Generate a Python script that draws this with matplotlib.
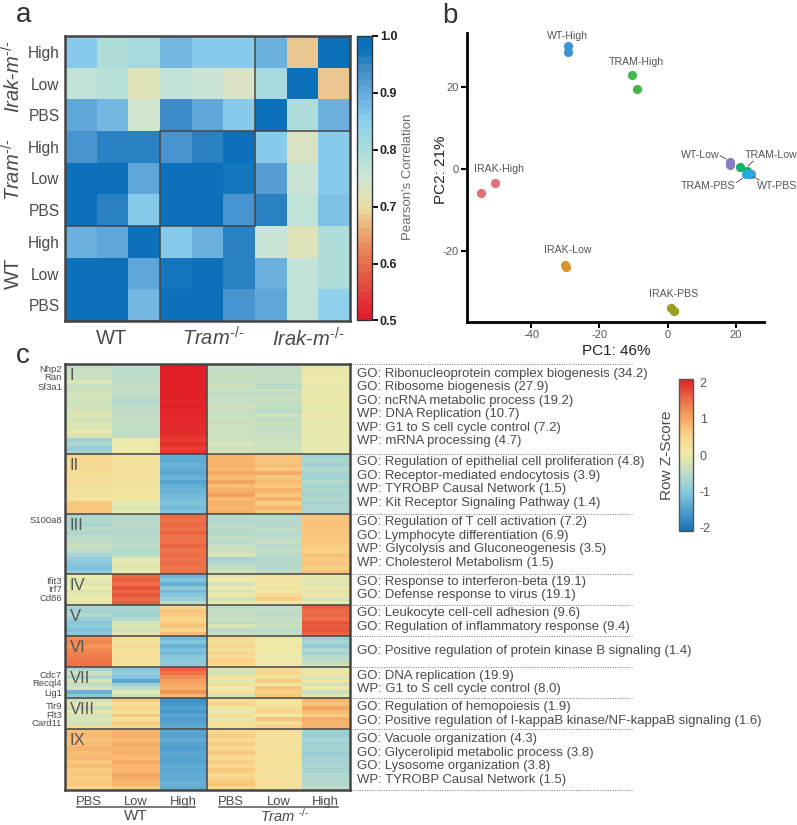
import matplotlib
matplotlib.use('Agg')
import matplotlib.pyplot as plt
import numpy as np
from matplotlib.colors import LinearSegmentedColormap
from matplotlib.patches import Rectangle

W, H = 797, 825

plt.rcParams['font.family'] = ['Liberation Sans', 'DejaVu Sans']
plt.rcParams['axes.unicode_minus'] = False
plt.rcParams['mathtext.fontset'] = 'custom'
plt.rcParams['mathtext.rm'] = 'Liberation Sans'
plt.rcParams['mathtext.it'] = 'Liberation Sans:italic'
plt.rcParams['mathtext.bf'] = 'Liberation Sans:bold'

# panel a: correlation matrix, top row first
corr_labels = ['High', 'Low', 'PBS', 'High', 'Low', 'PBS', 'High', 'Low', 'PBS']
corr = [
    [.850, .795, .800, .875, .850, .850, .890, .675, .990],
    [.770, .780, .715, .770, .760, .735, .800, .985, .675],
    [.910, .885, .745, .945, .910, .850, .990, .790, .890],
    [.930, .955, .950, .930, .960, .985, .850, .730, .850],
    [.985, .985, .900, .995, .995, .970, .915, .750, .850],
    [.985, .960, .850, .995, .995, .930, .950, .765, .870],
    [.890, .905, .985, .850, .890, .950, .750, .715, .795],
    [.990, .990, .905, .965, .985, .955, .890, .770, .790],
    [.990, .990, .880, .985, .980, .930, .910, .770, .840],
]

# panel b: PCA samples
pca_x = {
    'WT-High': [-29.3, -29.3], 'TRAM-High': [-10.6, -9.0], 'IRAK-High': [-50.7, -54.8],
    'IRAK-Low': [-30.2, -29.9], 'IRAK-PBS': [0.9, 1.7], 'WT-Low': [18.1, 18.1],
    'TRAM-Low': [21.3, 23.3], 'WT-PBS': [24.4, 24.4], 'TRAM-PBS': [22.8, 24.1],
}
pca_y = {
    'WT-High': [30.1, 28.7], 'TRAM-High': [23.0, 19.6], 'IRAK-High': [-3.3, -5.9],
    'IRAK-Low': [-23.5, -24.1], 'IRAK-PBS': [-34.1, -34.7], 'WT-Low': [1.6, 0.9],
    'TRAM-Low': [0.6, -0.4], 'WT-PBS': [-1.1, -1.2], 'TRAM-PBS': [-1.2, -1.2],
}
pca_colors = {
    'WT-High': '#3d93d1', 'TRAM-High': '#45b649', 'IRAK-High': '#e56f7b',
    'IRAK-Low': '#d9932a', 'IRAK-PBS': '#9a9f22', 'WT-Low': '#8a7cc0',
    'TRAM-Low': '#10b06a', 'WT-PBS': '#d66ab8', 'TRAM-PBS': '#2aa8e0',
}

# panel c: row z-scores per cluster, columns WT PBS/Low/High then Tram PBS/Low/High
cluster_1 = [
    [-.45, -.50, 2.08, -.42, -.48, -.05],
    [-.36, -.54, 2.08, -.46, -.44, -.02],
    [-.42, -.48, 2.06, -.38, -.50, -.06],
    [-.32, -.52, 2.09, -.42, -.42, -.03],
    [-.18, -.48, 2.07, -.45, -.48, -.04],
    [-.38, -.44, 2.06, -.36, -.54, -.05],
    [-.34, -.50, 2.08, -.42, -.38, -.06],
    [-.26, -.46, 2.06, -.46, -.48, -.02],
    [-.36, -.56, 2.07, -.40, -.34, -.05],
    [-.30, -.60, 2.04, -.44, -.52, -.01],
    [-.36, -.46, 2.08, -.32, -.42, -.08],
    [-.22, -.50, 2.02, -.40, -.56, -.04],
    [-.14, -.46, 2.05, -.44, -.34, -.06],
    [-.30, -.42, 2.00, -.34, -.50, -.03],
    [-.16, -.48, 2.04, -.42, -.32, -.07],
    [-.26, -.42, 1.98, -.28, -.46, -.04],
    [-.06, -.50, 2.00, -.38, -.38, -.06],
    [-.22, -.46, 1.94, -.34, -.44, -.05],
    [-.78,  .00, 1.90, -.36, -.34, -.08],
    [-.66, -.06, 1.96, -.22, -.42, -.05],
    [-.88,  .04, 1.86, -.36, -.30, -.07],
    [-.72, -.04, 1.92, -.28, -.36, -.06],
]
cluster_2 = [
    [ .45,  .25, -1.38, .88, .72, -.80],
    [ .40,  .16, -1.40, .84, .70, -.66],
    [ .42,  .28, -1.30, .90, .75, -.78],
    [ .34,  .20, -1.36, .84, .68, -.60],
    [ .38,  .18, -1.42, .98, .96, -.72],
    [ .24,  .26, -1.28, .80, .66, -.80],
    [ .36,  .14, -1.48, 1.04, .80, -.60],
    [ .26,  .26, -1.34, .78, .68, -.76],
    [ .18,  .10, -1.26, .92, .88, -.66],
    [ .32,  .20, -1.22, 1.08, .64, -.72],
    [ .14,  .12, -1.14, .82, .92, -.62],
    [ .66, -.10, -1.08, .92, .60, -.78],
    [ .70, -.20, -1.16, .88, .84, -.66],
    [ .64, -.06, -1.05, .96, .66, -.70],
]
cluster_3 = [
    [-.70, -.56, 1.54, -.56, -.60, .72],
    [-.64, -.60, 1.50, -.62, -.54, .70],
    [-.72, -.52, 1.58, -.52, -.60, .76],
    [-.58, -.58, 1.48, -.58, -.48, .68],
    [-.68, -.62, 1.62, -.62, -.58, .72],
    [-.54, -.54, 1.48, -.46, -.52, .66],
    [-.46, -.56, 1.52, -.56, -.40, .68],
    [-.38, -.52, 1.60, -.42, -.56, .62],
    [-.52, -.58, 1.46, -.34, -.46, .56],
    [-.72, -.55, 1.56, -.24, -.52, .72],
    [-.90, -.15, 1.48, -.72, -.60, .62],
    [-1.00, -.08, 1.54, -.60, -.54, .70],
    [-1.08, -.14, 1.46, -.46, -.60, .58],
    [-.95, -.04, 1.52, -.26, -.50, .76],
]
cluster_4 = [
    [ .00, 1.58, -1.25, -.10,  .12, -.05],
    [-.12, 1.66, -1.05,  .02,  .22, -.12],
    [-.18, 1.52, -1.32, -.28, -.02, -.18],
    [ .02, 1.72, -.95, -.04,  .18,  .08],
    [-.22, 1.60, -1.18, -.22,  .04, -.22],
    [-.08, 1.70, -1.00,  .06,  .42,  .10],
    [-.02, 1.56, -.88, -.30,  .62, -.25],
    [-.14, 1.64, -.55, -.10,  .08, -.08],
]
cluster_5 = [
    [-.70, -.68, .55, -.50, -.52, 1.62],
    [-.78, -.74, .70, -.42, -.44, 1.55],
    [-.62, -.80, .62, -.48, -.56, 1.60],
    [-.85, -.60, .48, -.36, -.40, 1.50],
    [-1.02, -.28, .60, -.55, -.48, 1.72],
    [-.96, -.18, .72, -.20, -.36, 1.65],
    [-1.08, -.30, .50, -.50, -.52, 1.70],
    [-.98, -.12, .82, -.42, -.44, 1.62],
]
cluster_6 = [
    [1.25, .28, -1.20, .45, .05, -.85],
    [1.32, .20, -1.05, .32, .00, -.70],
    [1.18, .36, -1.28, .50, .10, -.90],
    [1.28, .18, -1.12, .24, .02, -.62],
    [1.36, .32, -1.18, .52, .06, -.78],
    [1.40, .22, -1.00, .35, -.04, -.55],
    [1.46, .30, -.95, .58, .08, -.48],
    [1.50, .16, -.90, .44, -.02, -.30],
]
cluster_7 = [
    [-.70, -1.00, 1.62, -.18, .30, -.05],
    [-.35, -.90, 1.50, -.30, .52, .08],
    [-.62, -1.05, 1.24, .18, .22, -.20],
    [-.22, -1.42, 1.10, -.12, .60, .16],
    [-.50, -.82, 1.02, .30, .14, -.32],
    [-.30, -.50, .94, -.02, .72, .00],
    [-1.28, -.15, 1.18, .28, .56, -.38],
    [-1.00, -.38, .84, -.28, .66, -.12],
]
cluster_8 = [
    [-.30, .62, -1.70, .35, .24, .88],
    [-.12, .38, -1.62, .55, .12, .72],
    [-.38, .48, -1.50, .10, .34, 1.00],
    [-.05, .24, -1.58, -.05, .48, .78],
    [-.28, .70, -1.42, .38, .00, .64],
    [-.18, .22, -1.55, -.12, .72, .92],
    [-.34, .60, -1.45, .30, .28, .84],
    [ .30, .46, -1.38, .18, .58, .86],
]
cluster_9 = [
    [.76, .86, -1.42, .50, .28, -.78],
    [.82, .94, -1.50, .58, .22, -.84],
    [.72, .82, -1.36, .42, .30, -.70],
    [.78, .98, -1.46, .60, .26, -.80],
    [.86, .86, -1.52, .46, .20, -.74],
    [.74, .92, -1.40, .66, .32, -.86],
    [.82, .80, -1.44, .36, .24, -.72],
    [.68, .96, -1.48, .58, .28, -.78],
    [.78, .88, -1.38, .46, .20, -.68],
    [.62, .84, -1.42, .64, .28, -.74],
    [.70, 1.00, -1.34, .40, .22, -.62],
    [.60, .94, -1.40, .56, .28, -.66],
    [.66, .88, -1.30, .70, .22, -.58],
    [.52, .62, -1.36, .46, .26, -.50],
]
clusters = [cluster_1, cluster_2, cluster_3, cluster_4, cluster_5, cluster_6, cluster_7, cluster_8, cluster_9]
cluster_sizes = [90, 60, 60, 31, 31, 31, 31, 31, 61]
cluster_names = ['I', 'II', 'III', 'IV', 'V', 'VI', 'VII', 'VIII', 'IX']
conditions = ['PBS', 'Low', 'High', 'PBS', 'Low', 'High']

go_terms = [
    ['GO: Ribonucleoprotein complex biogenesis (34.2)', 'GO: Ribosome biogenesis (27.9)',
     'GO: ncRNA metabolic process (19.2)', 'WP: DNA Replication (10.7)',
     'WP: G1 to S cell cycle control (7.2)', 'WP: mRNA processing (4.7)'],
    ['GO: Regulation of epithelial cell proliferation (4.8)', 'GO: Receptor-mediated endocytosis (3.9)',
     'WP: TYROBP Causal Network (1.5)', 'WP: Kit Receptor Signaling Pathway (1.4)'],
    ['GO: Regulation of T cell activation (7.2)', 'GO: Lymphocyte differentiation (6.9)',
     'WP: Glycolysis and Gluconeogenesis (3.5)', 'WP: Cholesterol Metabolism (1.5)'],
    ['GO: Response to interferon-beta (19.1)', 'GO: Defense response to virus (19.1)'],
    ['GO: Leukocyte cell-cell adhesion (9.6)', 'GO: Regulation of inflammatory response (9.4)'],
    ['GO: Positive regulation of protein kinase B signaling (1.4)'],
    ['GO: DNA replication (19.9)', 'WP: G1 to S cell cycle control (8.0)'],
    ['GO: Regulation of hemopoiesis (1.9)', 'GO: Positive regulation of I-kappaB kinase/NF-kappaB signaling (1.6)'],
    ['GO: Vacuole organization (4.3)', 'GO: Glycerolipid metabolic process (3.8)',
     'GO: Lysosome organization (3.8)', 'WP: TYROBP Causal Network (1.5)'],
]
go_centres = [407.7, 482.5, 542.5, 588.5, 620, 651, 682.5, 713.8, 759.5]

GRAY = '#4a4a4a'
FRAME = '#454545'


def px_axes(fig, x0, y0, x1, y1):
    # axes from pixel box, y measured from the top of the figure
    return fig.add_axes([x0/W, 1-y1/H, (x1-x0)/W, (y1-y0)/H])


def draw_corr(fig, over):
    cmap = LinearSegmentedColormap.from_list('corr', [
        (0.0, '#e21b2e'), (0.2, '#e4714f'), (0.3, '#eba56f'), (0.4, '#eadfa8'),
        (0.5, '#cfe6d5'), (0.6, '#aadcdb'), (0.7, '#8ed0ee'), (0.8, '#69aedd'),
        (0.9, '#3d8ac8'), (0.96, '#0a71ba'), (1.0, '#0a71ba')], N=40)
    ax = px_axes(fig, 65, 36, 350, 321)
    mesh = ax.pcolormesh(np.array(corr), cmap=cmap, vmin=0.5, vmax=1.0)
    ax.set_ylim(9, 0)
    ax.set_xticks([])
    ax.set_yticks(np.arange(9)+0.5)
    ax.set_yticklabels(corr_labels, fontsize=11.2, color=GRAY)
    ax.tick_params(axis='y', length=0, pad=4)
    for s in ax.spines.values():
        s.set_color(FRAME)
        s.set_linewidth(1.8)
    for x, y in [(6, 0), (3, 3), (0, 6)]:
        ax.add_patch(Rectangle((x, y), 3, 3, fill=False, ec=FRAME, lw=1.1))

    cax = px_axes(fig, 356.7, 36, 371.5, 320.5)
    cb = fig.colorbar(mesh, cax=cax)
    cb.set_ticks([0.5, 0.6, 0.7, 0.8, 0.9, 1.0])
    cb.outline.set_edgecolor('#333333')
    cb.outline.set_linewidth(1.0)
    cax.tick_params(length=4, width=1.3, pad=2, labelsize=9, labelcolor='#222222')
    for t in cax.get_yticklabels():
        t.set_fontweight('bold')
    over.text(408, 177, "Pearson's Correlation", rotation=90, ha='center', va='center',
              fontsize=9.5, color='#6a6a6a')

    over.text(112, 338, 'WT', ha='center', va='center', fontsize=14.5, color=GRAY)
    over.text(213, 338, r'$\mathit{Tram}^{\text{-/-}}$', ha='center', va='center', fontsize=14.5, color=GRAY)
    over.text(308, 339, r'$\mathit{Irak\text{-}m}^{\text{-/-}}$', ha='center', va='center', fontsize=14.5, color=GRAY)
    over.text(13, 273, 'WT', rotation=90, ha='center', va='center', fontsize=14.5, color=GRAY)
    over.text(13, 170, r'$\mathit{Tram}^{\text{-/-}}$', rotation=90, ha='center', va='center', fontsize=14.5, color=GRAY)
    over.text(13, 77, r'$\mathit{Irak\text{-}m}^{\text{-/-}}$', rotation=90, ha='center', va='center', fontsize=14.5, color=GRAY)


def draw_pca(fig, over):
    ax = px_axes(fig, 467, 33, 764, 322)
    for name in pca_x:
        ax.scatter(pca_x[name], pca_y[name], s=44, color=pca_colors[name], linewidths=0, zorder=3)
    ax.set_xlim(-58.8, 28.2)
    ax.set_ylim(-37.45, 33.3)
    ax.set_xticks([-40, -20, 0, 20])
    ax.set_yticks([-20, 0, 20])
    ax.spines['top'].set_visible(False)
    ax.spines['right'].set_visible(False)
    ax.spines['left'].set_linewidth(2.0)
    ax.spines['bottom'].set_linewidth(2.0)
    ax.tick_params(length=4, width=1.5, labelsize=8, labelcolor='#555555', pad=2)

    labels = [('WT-High', 567.7, 35.7), ('TRAM-High', 636, 62), ('IRAK-High', 499.3, 169),
              ('IRAK-Low', 567.7, 249.7), ('IRAK-PBS', 673.3, 294.3), ('WT-Low', 700.3, 155.3),
              ('TRAM-Low', 770.7, 155.3), ('TRAM-PBS', 708.3, 186.3), ('WT-PBS', 776.7, 186.3)]
    for txt, x, y in labels:
        over.text(x, y, txt, ha='center', va='center', fontsize=7.6, color='#555555')
    for x0, y0, x1, y1 in [(720, 155.7, 726, 159), (753.3, 161, 748.3, 165.7),
                           (736, 182.7, 742.7, 178.3), (759.3, 180, 753.3, 176.7)]:
        over.plot([x0, x1], [y0, y1], color='#444444', lw=0.6)

    over.text(616, 351, 'PC1: 46%', ha='center', va='center', fontsize=11, color='#222222')
    over.text(441, 170, 'PC2: 21%', rotation=90, ha='center', va='center', fontsize=11, color='#222222')


def draw_clusters(fig, over):
    cmap = LinearSegmentedColormap.from_list('z', [
        (0.0, '#1470b5'), (0.125, '#4c9ccd'), (0.25, '#85c6dd'), (0.375, '#bcdcc9'),
        (0.5, '#eeeaa8'), (0.625, '#f9d58b'), (0.75, '#f5a45f'), (0.875, '#ec6a45'),
        (1.0, '#e21f26')], N=256)
    ax = px_axes(fig, 65, 364, 349.5, 790)
    top = 0
    bounds = []
    for rows, size in zip(clusters, cluster_sizes):
        rows = np.array(rows)
        edges = np.linspace(top, top+size, len(rows)+1)
        mesh = ax.pcolormesh(np.arange(7), edges, rows, cmap=cmap, vmin=-2.09, vmax=2.09)
        top += size
        bounds.append(top)
    ax.set_xlim(0, 6)
    ax.set_ylim(top, 0)
    ax.set_yticks([])
    ax.set_xticks(np.arange(6)+0.5)
    ax.set_xticklabels(conditions, fontsize=9.4, color=GRAY)
    ax.tick_params(axis='x', length=0, pad=4.5)
    for s in ax.spines.values():
        s.set_color(FRAME)
        s.set_linewidth(1.8)
    for b in bounds[:-1]:
        ax.axhline(b, color=FRAME, lw=1.1)
    ax.axvline(3, color=FRAME, lw=1.1)

    y = 364
    for i, (name, size) in enumerate(zip(cluster_names, cluster_sizes)):
        over.text(70, y+11.5, name, ha='left', va='center', fontsize=12, color='#555555')
        over.plot([352, 632], [y, y], color='#777777', lw=0.7, ls=(0, (1, 1.5)))
        y += size
        terms = go_terms[i]
        for k, term in enumerate(terms):
            yy = go_centres[i] + (k-(len(terms)-1)/2)*13.5
            over.text(357, yy, term, ha='left', va='center', fontsize=9.42, color=GRAY)
    over.plot([352, 632], [y, y], color='#777777', lw=0.7, ls=(0, (1, 1.5)))

    genes = [('Nhp2', 369), ('Ran', 377.7), ('Sf3a1', 387), ('S100a8', 520.7), ('Ifit3', 581),
             ('Irf7', 590), ('Cd86', 598.7), ('Cdc7', 675), ('Recql4', 684), ('Lig1', 693),
             ('Tlr9', 706.3), ('Flt3', 715), ('Card11', 723.7)]
    for g, yy in genes:
        over.text(62, yy, g, ha='right', va='center', fontsize=6.8, color=GRAY)

    over.plot([77.3, 195.3], [807.3, 807.3], color='#555555', lw=1.1)
    over.plot([219.3, 337.7], [807.3, 807.3], color='#555555', lw=1.1)
    over.text(136, 816.5, 'WT', ha='center', va='center', fontsize=11, color=GRAY)
    over.text(285, 815.5, r'$\mathit{Tram}$ $^{\text{-/-}}$', ha='center', va='center', fontsize=10.5, color=GRAY)

    cax = px_axes(fig, 679, 379, 692.7, 531)
    cb = fig.colorbar(mesh, cax=cax)
    cb.set_ticks([-2, -1, 0, 1, 2])
    cb.outline.set_edgecolor('#555555')
    cb.outline.set_linewidth(1.0)
    cax.tick_params(length=0, pad=5, labelsize=9, labelcolor='#555555')
    over.text(666.7, 455, 'Row Z-Score', rotation=90, ha='center', va='center', fontsize=11.1, color=GRAY)


def main():
    fig = plt.figure(figsize=(W/100, H/100), dpi=100)
    over = fig.add_axes([0, 0, 1, 1], zorder=10)
    over.set_xlim(0, W)
    over.set_ylim(H, 0)
    over.axis('off')

    draw_corr(fig, over)
    draw_pca(fig, over)
    draw_clusters(fig, over)

    over.text(16, 22, 'a', fontsize=20, color='#333333', va='baseline')
    over.text(442, 22.7, 'b', fontsize=20, color='#333333', va='baseline')
    over.text(16, 363, 'c', fontsize=20, color='#333333', va='baseline')

    fig.savefig('out.png', dpi=100)


if __name__ == "__main__":
    main()
